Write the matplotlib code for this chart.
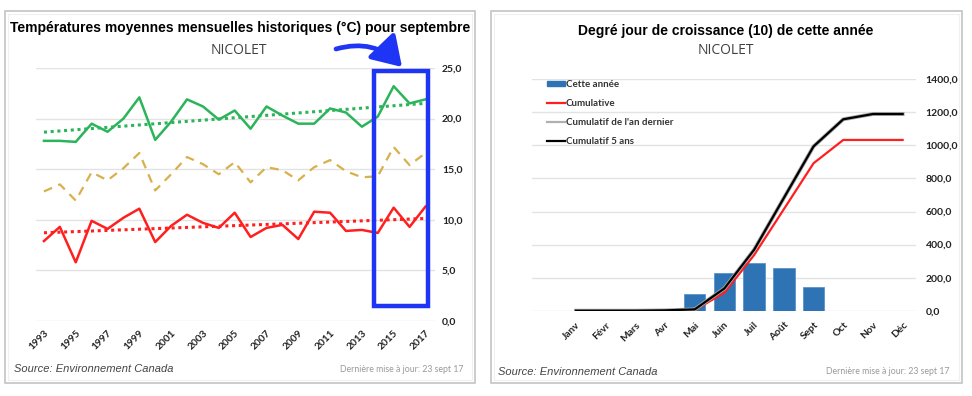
import numpy as np
import matplotlib
matplotlib.use("Agg")
import matplotlib.pyplot as plt
from matplotlib.patches import Rectangle, FancyArrowPatch, Patch
from matplotlib.lines import Line2D

# ---------------- data ----------------
years = list(range(1993, 2018))
temp_max = [17.8, 17.8, 17.7, 19.5, 18.7, 20.0, 22.1, 17.9, 19.7, 21.9, 21.2, 19.9,
            20.8, 19.0, 21.2, 20.3, 19.5, 19.5, 21.0, 20.6, 19.2, 20.2, 23.2, 21.5, 21.9]
temp_mean = [12.8, 13.5, 11.9, 14.7, 13.9, 15.1, 16.6, 12.9, 14.5, 16.2, 15.5, 14.5,
             15.7, 13.7, 15.2, 14.9, 13.9, 15.2, 15.9, 14.8, 14.2, 14.3, 17.2, 15.4, 16.6]
temp_min = [7.9, 9.3, 5.8, 9.9, 9.1, 10.2, 11.1, 7.8, 9.4, 10.5, 9.7, 9.2,
            10.7, 8.3, 9.2, 9.5, 8.1, 10.8, 10.7, 8.9, 9.0, 8.7, 11.2, 9.3, 11.3]
year_ticks = list(range(1993, 2018, 2))
temp_yticks = [0, 5, 10, 15, 20, 25]

months = ["Janv", "Févr", "Mars", "Avr", "Mai", "Juin", "Juil", "Août", "Sept", "Oct", "Nov", "Déc"]
gdd_month = [0, 0, 0, 0, 99, 226, 290, 258, 143, 0, 0, 0]
gdd_cumul = [0, 0, 0, 0, 4, 109, 337, 614, 892, 1033, 1033, 1033]
gdd_last_year = [0, 0, 0, 2, 8, 135, 369, 682, 994, 1158, 1190, 1190]
gdd_5yrs = [0, 0, 0, 2, 8, 135, 369, 682, 994, 1158, 1190, 1190]
gdd_yticks = [0, 200, 400, 600, 800, 1000, 1200, 1400]

# ---------------- style ----------------
W, H = 972, 396
fig = plt.figure(figsize=(W / 100, H / 100), dpi=100)
fig.patch.set_facecolor("white")

def fx(px):
    return px / W

def fy(py):
    return 1 - py / H

GREEN = "#2bb45a"
TAN = "#d8b04c"
RED = "#ff1f1f"
BLUE = "#2e74b5"
GRID = "#e3e3e3"
HILITE = "#1f35f5"
TICKFONT = "Lato"

# panel frames
for x0, x1 in [(5, 475), (491, 962)]:
    fig.patches.append(Rectangle((fx(x0), fy(383)), fx(x1) - fx(x0), fy(11) - fy(383),
                                 transform=fig.transFigure, fill=False,
                                 edgecolor="#c4c4c4", linewidth=1.2))
    fig.patches.append(Rectangle((fx(x0 + 3), fy(380)), fx(x1 - 3) - fx(x0 + 3), fy(14) - fy(380),
                                 transform=fig.transFigure, fill=False,
                                 edgecolor="#f0f0f0", linewidth=0.8))

# ---------------- left chart ----------------
ax1 = fig.add_axes([fx(36), fy(321), fx(435) - fx(36), fy(68) - fy(321)])
ax1.set_xlim(1992.5, 2017.6)
ax1.set_ylim(0, 25)
for s in ax1.spines.values():
    s.set_visible(False)
ax1.yaxis.tick_right()
ax1.set_yticks(temp_yticks)
ax1.set_yticklabels([f"{v:.1f}".replace(".", ",") for v in temp_yticks],
                    fontsize=7.5, fontweight="bold", family=TICKFONT, color="#222222")
ax1.set_xticks(year_ticks)
ax1.set_xticklabels([str(y) for y in year_ticks], rotation=45, ha="right",
                    rotation_mode="anchor", fontsize=7.3, fontweight="bold",
                    family=TICKFONT, color="#222222")
ax1.tick_params(length=0, pad=5)
ax1.grid(axis="y", color=GRID, linewidth=1)
ax1.set_axisbelow(True)

yr = np.array(years, dtype=float)
for vals, col in [(temp_max, GREEN), (temp_min, RED)]:
    c = np.polyfit(yr, vals, 1)
    ax1.plot(yr, np.polyval(c, yr), color=col, linestyle=(0, (1, 1.2)), linewidth=2.2)
ax1.plot(years, temp_max, color=GREEN, linewidth=1.8)
ax1.plot(years, temp_mean, color=TAN, linewidth=1.6, linestyle=(0, (4, 3)))
ax1.plot(years, temp_min, color=RED, linewidth=1.8)

fig.text(fx(240), fy(28), "Températures moyennes mensuelles historiques (°C) pour septembre",
         ha="center", va="center", fontsize=10, fontweight="bold", family="Liberation Sans")
fig.text(fx(239), fy(50), "NICOLET", ha="center", va="center", fontsize=10,
         color="#404040", family="Open Sans")

# highlight rectangle and arrow
fig.patches.append(Rectangle((fx(373.5), fy(306)), fx(427.5) - fx(373.5), fy(70.5) - fy(306),
                             transform=fig.transFigure, fill=False,
                             edgecolor=HILITE, linewidth=3.2))
arrow = FancyArrowPatch((fx(336), fy(49)), (fx(402), fy(67)),
                        transform=fig.transFigure, connectionstyle="arc3,rad=-0.3",
                        arrowstyle="-|>,head_length=11,head_width=7",
                        color=HILITE, linewidth=3.4, mutation_scale=1.6,
                        shrinkA=0, shrinkB=0)
fig.patches.append(arrow)

fig.text(fx(14), fy(369), "Source: Environnement Canada", ha="left", va="center",
         fontsize=8, style="italic", color="#444444", family="Liberation Sans")
fig.text(fx(463), fy(370), "Dernière mise à jour: 23 sept 17", ha="right", va="center",
         fontsize=6.3, color="#999999", family=TICKFONT)

# ---------------- right chart ----------------
ax2 = fig.add_axes([fx(531.7), fy(310.7), fx(916) - fx(531.7), fy(79.3) - fy(310.7)])
x = np.arange(len(months))
ax2.set_xlim(-1.49, 11.45)
ax2.set_ylim(0, 1400)
for s in ax2.spines.values():
    s.set_visible(False)
ax2.yaxis.tick_right()
ax2.set_yticks(gdd_yticks)
ax2.set_yticklabels([f"{v:.1f}".replace(".", ",") for v in gdd_yticks],
                    fontsize=7.5, fontweight="bold", family=TICKFONT, color="#222222")
ax2.set_xticks(x)
ax2.set_xticklabels(months, rotation=45, ha="right", rotation_mode="anchor",
                    fontsize=7.3, fontweight="bold", family=TICKFONT, color="#222222")
ax2.tick_params(length=0, pad=7)
ax2.grid(axis="y", color=GRID, linewidth=1)
ax2.set_axisbelow(True)

ax2.bar(x, gdd_month, width=0.72, color=BLUE, edgecolor="#5b93c9", linewidth=0.6, zorder=2)
ax2.plot(x, gdd_cumul, color=RED, linewidth=1.6, zorder=3)
ax2.plot(x, gdd_last_year, color="#a8a8a8", linewidth=2.8, zorder=3)
ax2.plot(x, gdd_5yrs, color="black", linewidth=1.6, zorder=4)

handles = [Patch(facecolor=BLUE, edgecolor=BLUE),
           Line2D([], [], color=RED, linewidth=1.6),
           Line2D([], [], color="#b0b0b0", linewidth=1.6),
           Line2D([], [], color="black", linewidth=1.6)]
labels = ["Cette année", "Cumulative", "Cumulatif de l'an dernier", "Cumulatif 5 ans"]
leg = fig.legend(handles, labels, loc="upper left",
                 bbox_to_anchor=(fx(547), fy(80)), bbox_transform=fig.transFigure,
                 frameon=False, handlelength=1.8, handleheight=0.5, handletextpad=0.15,
                 labelspacing=1.03, borderaxespad=0, borderpad=0,
                 prop={"family": TICKFONT, "size": 7, "weight": "bold"})
for t in leg.get_texts():
    t.set_color("#333333")

fig.text(fx(726), fy(31), "Degré jour de croissance (10) de cette année",
         ha="center", va="center", fontsize=10, fontweight="bold", family="Liberation Sans")
fig.text(fx(726), fy(51), "NICOLET", ha="center", va="center", fontsize=10,
         color="#404040", family="Open Sans")
fig.text(fx(498), fy(372), "Source: Environnement Canada", ha="left", va="center",
         fontsize=8, style="italic", color="#444444", family="Liberation Sans")
fig.text(fx(949), fy(371), "Dernière mise à jour: 23 sept 17", ha="right", va="center",
         fontsize=6.3, color="#999999", family=TICKFONT)

fig.savefig("out.png", dpi=100, facecolor="white")
